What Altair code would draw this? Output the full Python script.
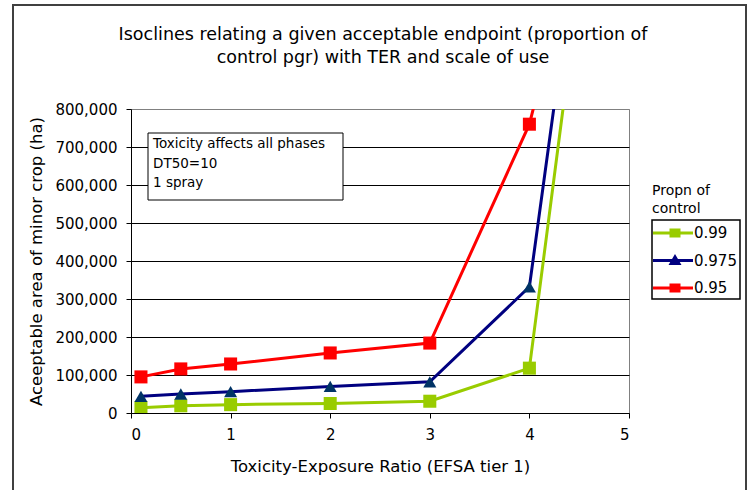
import altair as alt
import pandas as pd

# ---- data ----
ter = [0.1, 0.5, 1, 2, 3, 4, 5]
prop_099 = [14000, 19000, 22000, 25000, 31000, 118000, 2140000]
prop_0975 = [44000, 50000, 56000, 70000, 82000, 332000, 2250000]
prop_095 = [95000, 116000, 129000, 158000, 184000, 760000, 1800000]

series = ["0.99", "0.975", "0.95"]
line_colors = ["#99CC00", "#000080", "#FF0000"]
marker_colors = ["#99CC00", "#003366", "#FF0000"]
marker_shapes = ["square", "triangle-up", "square"]

x_ticks = [0, 1, 2, 3, 4, 5]
y_ticks = [0, 100000, 200000, 300000, 400000, 500000, 600000, 700000, 800000]

title_lines = ["Isoclines relating a given acceptable endpoint (proportion of",
               "control pgr) with TER and scale of use"]
x_title = "Toxicity-Exposure Ratio (EFSA tier 1)"
y_title = "Aceeptable area of minor crop (ha)"
note_lines = ["Toxicity affects all phases", "DT50=10", "1 spray"]
legend_title_lines = ["Propn of", "control"]

FONT = "DejaVu Sans"

rows = []
for name, vals in zip(series, [prop_099, prop_0975, prop_095]):
    for i, (xv, yv) in enumerate(zip(ter, vals)):
        rows.append({"TER": xv, "area": yv, "prop": name, "order": i})
df = pd.DataFrame(rows)

x_enc = alt.X(
    "TER:Q",
    scale=alt.Scale(domain=[0, 5], nice=False),
    axis=alt.Axis(values=x_ticks, format="d", title=x_title, grid=False,
                  labelPadding=9, titlePadding=16),
)
y_enc = alt.Y(
    "area:Q",
    scale=alt.Scale(domain=[0, 800000], nice=False),
    axis=alt.Axis(values=y_ticks, format=",d", title=y_title, grid=True,
                  gridColor=alt.condition("datum.value === 800000",
                                          alt.value("#808080"), alt.value("black")),
                  gridWidth=1.2, labelPadding=9, titlePadding=10),
)

base = alt.Chart(df)

# one line + marker layer per series (fixed colours, so no other legend is made)
series_layers = []
for name, lcol, mcol, shp in zip(series, line_colors, marker_colors, marker_shapes):
    sub = base.transform_filter(alt.datum.prop == name)
    series_layers.append(
        sub.mark_line(clip=True, strokeWidth=3, color=lcol).encode(
            x=x_enc, y=y_enc, order="order:Q")
    )
    series_layers.append(
        sub.mark_point(filled=True, shape=shp, color=mcol, size=170, opacity=1,
                       clip=True).encode(x=x_enc, y=y_enc)
    )

# legend symbols: line with a marker in the middle
sq = "M-1.2,-0.15H2.8V0.15H-1.2Z M0.45,-0.45H1.55V0.45H0.45Z"
tri = "M-1.2,-0.15H2.8V0.15H-1.2Z M1,-0.65L1.65,0.45H0.35Z"
legend_paths = [sq, tri, sq]

legend_params = dict(
    title=None, orient="none", legendX=521, legendY=111,
    strokeColor="black", fillColor="white", padding=3,
    symbolSize=400, symbolStrokeWidth=0, symbolOpacity=1,
    labelFont=FONT, labelFontSize=15, labelColor="black",
    labelOffset=19, rowPadding=9.5,
)

# legend-only layer: its points sit above the y domain and are clipped away
legend_layer = base.transform_filter(alt.datum.TER == 5).mark_point(
    filled=True, clip=True, opacity=1
).encode(
    x=x_enc, y=y_enc,
    color=alt.Color("prop:N", scale=alt.Scale(domain=series, range=line_colors),
                    legend=alt.Legend(**legend_params)),
    shape=alt.Shape("prop:N", scale=alt.Scale(domain=series, range=legend_paths),
                    legend=alt.Legend(**legend_params)),
)

deco = alt.Chart(pd.DataFrame({"note": ["\n".join(note_lines)],
                               "ltitle": ["\n".join(legend_title_lines)],
                               "title": ["\n".join(title_lines)]}))

frame = deco.mark_rect(fill="transparent", stroke="#404040", strokeWidth=2, clip=False).encode(
    x=alt.value(-118), x2=alt.value(615), y=alt.value(-104), y2=alt.value(395)
)
title_text = deco.mark_text(align="center", baseline="alphabetic", font=FONT,
                            fontSize=17.5, lineHeight=23, lineBreak="\n",
                            color="black").encode(
    x=alt.value(252), y=alt.value(-69), text="title:N"
)
note_box = deco.mark_rect(fill="white", stroke="black", strokeWidth=1).encode(
    x=alt.value(17), x2=alt.value(212), y=alt.value(24), y2=alt.value(91)
)
note_text = deco.mark_text(align="left", baseline="alphabetic", font=FONT,
                           fontSize=13.5, lineHeight=19.5, lineBreak="\n",
                           color="black").encode(
    x=alt.value(22), y=alt.value(39), text="note:N"
)
legend_title = deco.mark_text(align="left", baseline="alphabetic", font=FONT,
                              fontSize=14, lineHeight=18, lineBreak="\n",
                              color="black").encode(
    x=alt.value(521), y=alt.value(86), text="ltitle:N"
)

chart = alt.layer(
    frame, title_text, *series_layers, note_box, note_text,
    legend_layer, legend_title
).properties(
    width=498, height=304,
    background="white",
    autosize=alt.AutoSizeParams(type="none"),
    padding={"left": 131, "top": 109, "right": 118, "bottom": 77},
).configure_view(
    stroke="#808080", strokeWidth=1
).configure_axis(
    domainColor="black", domainWidth=1, tickColor="black", tickSize=5,
    labelFont=FONT, labelFontSize=15, labelColor="black",
    titleFont=FONT, titleFontSize=16.5, titleFontWeight="normal", titleColor="black",
).configure_legend(
    strokeWidth=1.5
)

chart.save("out.html", embed_options={"renderer": "svg", "actions": False})
